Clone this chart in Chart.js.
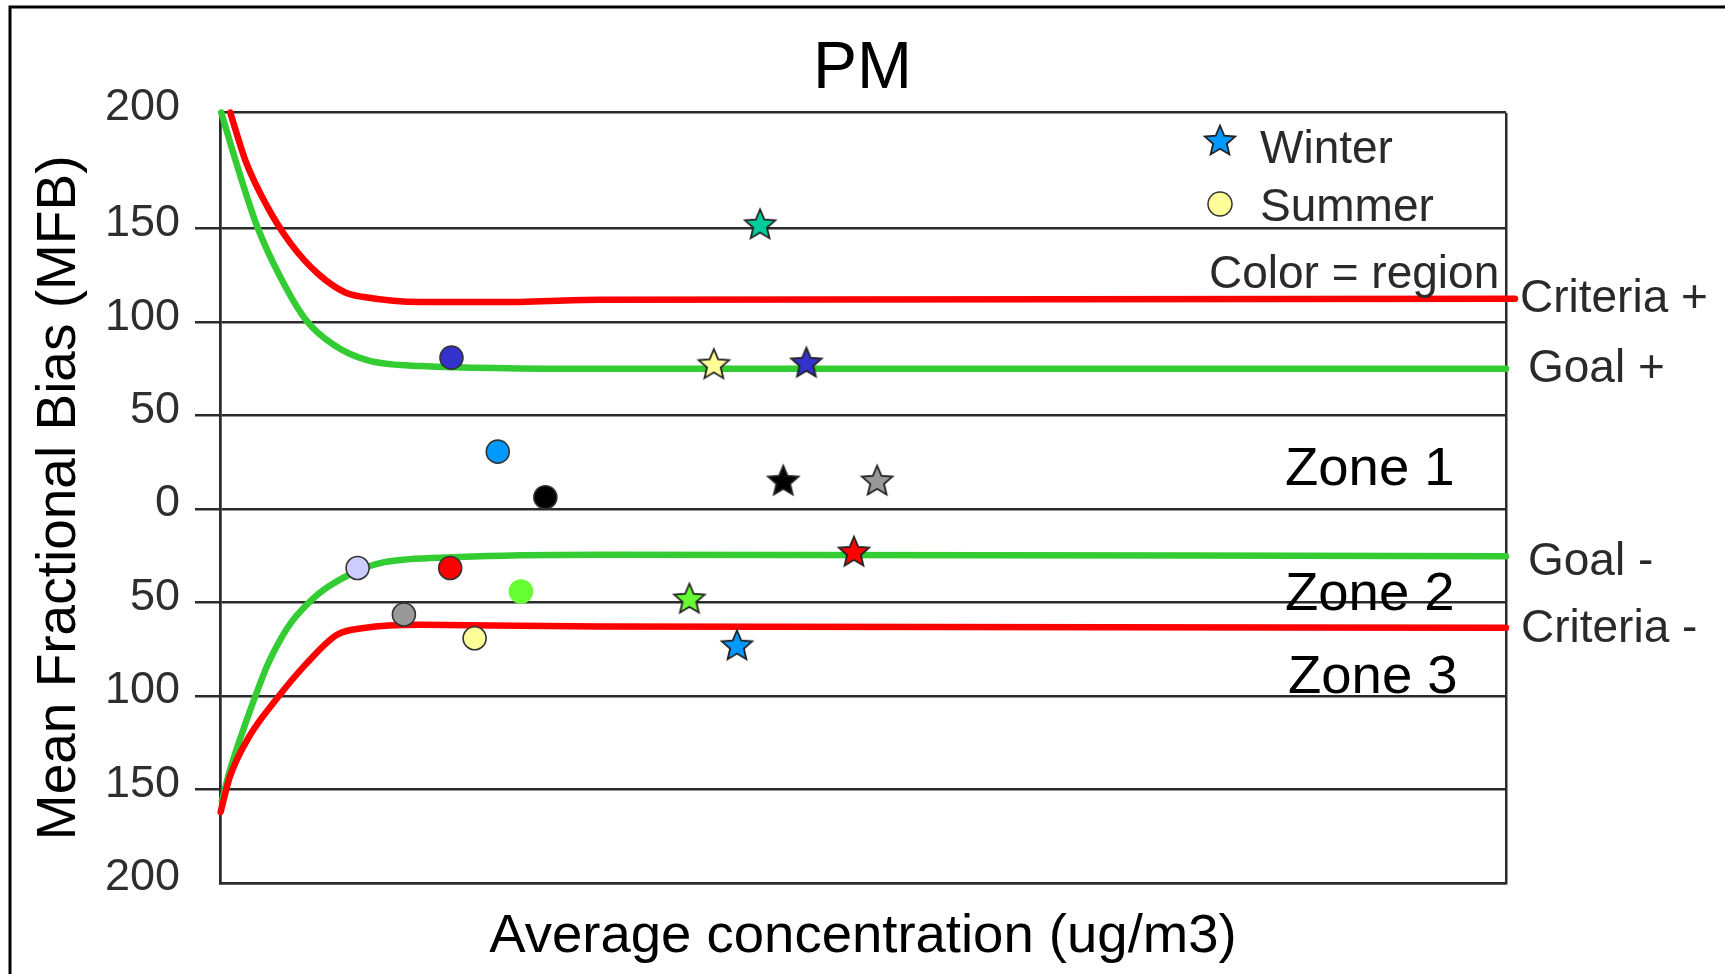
<!DOCTYPE html>
<html>
<head>
<meta charset="utf-8">
<script src="https://cdn.jsdelivr.net/npm/chart.js@4.4.1/dist/chart.umd.min.js"></script>
<style>
  html, body { margin: 0; padding: 0; background: #fff; }
  canvas { display: block; }
</style>
</head>
<body>
<canvas id="c" width="1725" height="974"></canvas>
<script>
// ---------- data ----------
const xMin = 0, xMax = 100;          // concentration axis (no tick labels shown)
const yMin = -200, yMax = 212;       // MFB axis as drawn (top edge labelled "200")
const yTickValues = [-200, -150, -100, -50, 0, 50, 100, 150, 212];
const yTickLabels = ['200', '150', '100', '50', '0', '50', '100', '150', '200'];

// performance goal / criteria curves
const goalPlusX  = [0.1, 1.5, 2.9, 4.7, 6.7, 8.8, 11.5, 15.6, 29.5, 100];
const goalPlusY  = [212, 180, 151, 124, 101, 88, 79.5, 76.5, 75, 75];
const goalMinusX = [0.15, 0.8, 1.56, 2.59, 3.72, 4.6, 5.5, 6.7, 7.9, 10.7, 12.7, 18.6, 29.5, 100];
const goalMinusY = [-156, -139, -123, -103, -83, -71, -61, -51.5, -44, -33, -28.5, -25.7, -24.5, -25.2];
const critPlusX  = [0.8, 2.0, 3.7, 5.5, 7.6, 9.7, 11.2, 15.6, 21.6, 29.5, 100.7];
const critPlusY  = [212, 186, 161.5, 142, 126, 116, 113.4, 110.7, 110.7, 112, 112.5];
const critMinusX = [0.05, 0.75, 2.24, 4.3, 6.7, 9.1, 11.2, 15.6, 29.5, 100];
const critMinusY = [-162, -143.5, -122, -102.4, -82.8, -67.2, -63.6, -61.9, -62.8, -63.5];

// Winter (stars) and Summer (circles); colour = region
const winterX = [42.0, 38.4, 45.6, 43.8, 51.1, 49.3, 36.5, 40.2];
const winterY = [152.6, 77.8, 78.6, 15.5, 15.5, -22.5, -47.6, -72.6];
const winterColors = ['#00cc99', '#ffff99', '#3333cc', '#000000', '#999999', '#ff0000', '#66ff33', '#0099ff'];
const summerX = [18.0, 21.6, 25.3, 10.7, 17.9, 23.4, 14.3, 19.8];
const summerY = [81.0, 30.7, 6.3, -31.5, -31.5, -44.1, -56.4, -69.1];
const summerColors = ['#3333cc', '#0099ff', '#000000', '#ccccff', '#ff0000', '#66ff33', '#999999', '#ffff99'];
const summerBorders = ['#333', '#333', '#333', '#333', '#333', '#66ff33', '#333', '#333'];

// ---------- helpers ----------
const FONT = "'Liberation Sans', Arial, sans-serif";
Chart.defaults.font.family = FONT;

function pts(xs, ys) { return xs.map((x, i) => ({ x: x, y: ys[i] })); }

function makeStar(color, R) {
  const s = Math.ceil(R * 2 + 6);
  const c = document.createElement('canvas');
  c.width = s; c.height = s;
  const g = c.getContext('2d');
  g.translate(s / 2, s / 2 + R * 0.095);
  g.beginPath();
  for (let i = 0; i < 10; i++) {
    const r = (i % 2) ? R * 0.45 : R;
    const a = -Math.PI / 2 + i * Math.PI / 5;
    g.lineTo(r * Math.cos(a), r * Math.sin(a));
  }
  g.closePath();
  g.fillStyle = color; g.fill();
  g.lineWidth = 1.8; g.strokeStyle = '#222'; g.lineJoin = 'miter'; g.stroke();
  return c;
}

const winterStars = winterColors.map(c => makeStar(c, 16));
const legendStar = makeStar('#0099ff', 16);

const GRID = '#2b2b2b';

const annotations = {
  id: 'annotations',
  beforeDraw(chart) {
    const ctx = chart.ctx;
    ctx.save();
    ctx.fillStyle = '#fff';
    ctx.fillRect(0, 0, chart.width, chart.height);
    ctx.restore();
  },
  afterDraw(chart) {
    const ctx = chart.ctx;
    ctx.save();
    // outer frame (top and left edges)
    ctx.strokeStyle = '#000'; ctx.lineWidth = 3;
    ctx.beginPath(); ctx.moveTo(10, 974); ctx.lineTo(10, 7); ctx.lineTo(1725, 7); ctx.stroke();

    // legend
    ctx.drawImage(legendStar, 1220 - legendStar.width / 2, 140 - legendStar.height / 2);
    ctx.beginPath(); ctx.arc(1220, 204, 12, 0, Math.PI * 2);
    ctx.fillStyle = '#ffff99'; ctx.fill();
    ctx.lineWidth = 1.5; ctx.strokeStyle = '#333'; ctx.stroke();

    ctx.textAlign = 'left'; ctx.textBaseline = 'alphabetic';
    ctx.fillStyle = '#2a2a2a';
    ctx.font = '46px ' + FONT;
    ctx.fillText('Winter', 1260, 163);
    ctx.fillText('Summer', 1260, 221);
    ctx.fillText('Color = region', 1209, 288);
    ctx.fillText('Criteria +', 1520, 312);
    ctx.fillText('Goal +', 1528, 382);
    ctx.fillText('Goal -', 1528, 575);
    ctx.fillText('Criteria -', 1521, 642);

    ctx.fillStyle = '#000';
    ctx.font = '54.5px ' + FONT;
    ctx.fillText('Zone 1', 1285, 485);
    ctx.fillText('Zone 2', 1285, 610);
    ctx.fillText('Zone 3', 1288, 693);
    ctx.restore();
  }
};

new Chart(document.getElementById('c'), {
  type: 'scatter',
  data: {
    datasets: [
      {
        label: 'Winter',
        data: pts(winterX, winterY),
        pointStyle: winterStars,
        pointRadius: 16,
        backgroundColor: winterColors,
        borderColor: '#222'
      },
      {
        label: 'Summer',
        data: pts(summerX, summerY),
        pointStyle: 'circle',
        pointRadius: 11.5,
        pointBorderWidth: 1.6,
        backgroundColor: summerColors,
        borderColor: summerBorders
      },
      {
        label: 'Criteria +',
        data: pts(critPlusX, critPlusY),
        showLine: true, borderColor: '#ff0000', borderWidth: 6.5,
        pointRadius: 0, cubicInterpolationMode: 'monotone', clip: false,
        borderCapStyle: 'round'
      },
      {
        label: 'Criteria -',
        data: pts(critMinusX, critMinusY),
        showLine: true, borderColor: '#ff0000', borderWidth: 6.5,
        pointRadius: 0, cubicInterpolationMode: 'monotone', clip: false,
        borderCapStyle: 'round'
      },
      {
        label: 'Goal +',
        data: pts(goalPlusX, goalPlusY),
        showLine: true, borderColor: '#33cc33', borderWidth: 6.5,
        pointRadius: 0, cubicInterpolationMode: 'monotone', clip: false,
        borderCapStyle: 'round'
      },
      {
        label: 'Goal -',
        data: pts(goalMinusX, goalMinusY),
        showLine: true, borderColor: '#33cc33', borderWidth: 6.5,
        pointRadius: 0, cubicInterpolationMode: 'monotone', clip: false,
        borderCapStyle: 'round'
      }
    ]
  },
  options: {
    responsive: false,
    devicePixelRatio: 1,
    animation: false,
    events: [],
    layout: { padding: 0 },
    plugins: {
      legend: { display: false },
      tooltip: { enabled: false },
      title: {
        display: true,
        text: 'PM',
        color: '#000',
        font: { size: 66, weight: 'normal', family: FONT },
        padding: { top: 30, bottom: 3.5 }
      }
    },
    scales: {
      x: {
        type: 'linear',
        min: xMin, max: xMax,
        afterBuildTicks: s => { s.ticks = [{ value: xMin }, { value: xMax }]; },
        afterFit: s => { s.height = 91; },
        ticks: { display: false },
        grid: { color: GRID, lineWidth: 2.5, drawTicks: false },
        border: { display: true, color: GRID, width: 2.5 },
        title: {
          display: true,
          text: 'Average concentration (ug/m3)',
          color: '#000',
          font: { size: 54.5, family: FONT },
          padding: { top: 0, bottom: 4 }
        }
      },
      y: {
        type: 'linear',
        min: yMin, max: yMax,
        afterBuildTicks: s => { s.ticks = yTickValues.map(v => ({ value: v })); },
        afterFit: s => { s.width = 220; },
        ticks: {
          autoSkip: false,
          padding: 15,
          labelOffset: -5,
          color: '#2e2e2e',
          font: { size: 45, family: FONT },
          callback: (v, i) => yTickLabels[i]
        },
        grid: {
          color: GRID, lineWidth: 2.5,
          drawTicks: true, tickLength: 25, tickWidth: 2.5,
          tickColor: ctx => (ctx.index === 0 || ctx.index === yTickValues.length - 1) ? 'rgba(0,0,0,0)' : GRID
        },
        border: { display: true, color: GRID, width: 2.5 },
        title: {
          display: true,
          text: 'Mean Fractional Bias (MFB)',
          color: '#000',
          font: { size: 55, family: FONT },
          padding: { top: 27, bottom: 0 }
        }
      },
      yRight: {
        type: 'linear',
        position: 'right',
        display: true,
        afterFit: s => { s.width = 219; },
        ticks: { display: false },
        grid: { display: false },
        border: { display: false }
      }
    }
  },
  plugins: [annotations]
});
</script>
</body>
</html>
